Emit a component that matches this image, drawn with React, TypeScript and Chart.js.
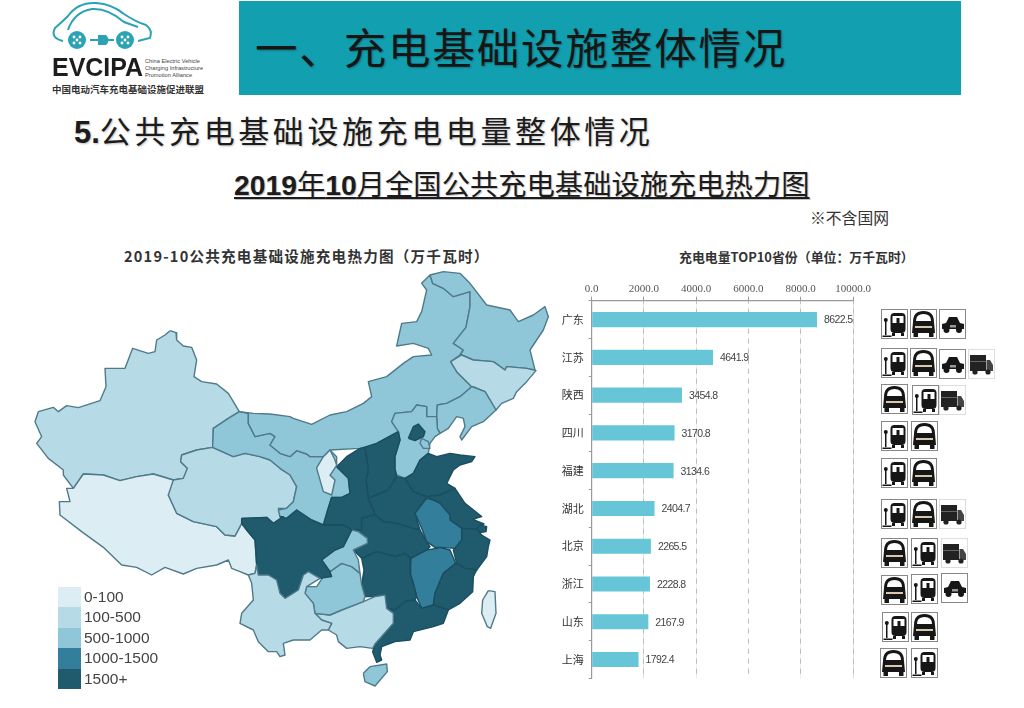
import React, { useEffect, useRef } from "react";
import { Chart, registerables } from "chart.js";

Chart.register(...registerables);

// ---------- bar chart data ----------
const provinces = ["广东", "江苏", "陕西", "四川", "福建", "湖北", "北京", "浙江", "山东", "上海"];
const chargeValues = [8622.5, 4641.9, 3454.8, 3170.8, 3134.6, 2404.7, 2265.5, 2228.8, 2167.9, 1792.4];

// ---------- legend ----------
const legendLabels = ["0-100", "100-500", "500-1000", "1000-1500", "1500+"];
const legendColors = ["#DCEDF3", "#B6DAE6", "#8FC7D9", "#337F9B", "#1F5A6D"];

// ---------- map outlines (traced; units are thirds of a pixel over the map canvas) ----------
type Pt = { x: number; y: number };
const tile = (ox: number, oy: number) => (s: TemplateStringsArray): Pt[] =>
  s[0].trim().split(/\s+/).map((p) => {
    const [x, y] = p.split(",").map(Number);
    return { x: x + ox, y: y + oy };
  });
const A = tile(0, 0);
const B = tile(780, 0);
const C = tile(0, 660);
const D = tile(780, 660);

const mapRegions: { name: string; level: number; outline: Pt[] }[] = [
  { name: "新疆", level: 1, outline: [
    ...A`450,272 468,278 470,300 490,318 515,322 530,360 522,410 545,425 590,432 625,460 658,515 625,535 580,565 578,622 530,630 485,645 482,665 502,685`,
    ...C`505,30 490,55 460,60 400,42 350,50 300,62 250,45 190,42 160,85 130,45`,
    ...A`130,690 85,655 50,610 65,590 45,545 55,515 100,502 115,515 140,497 175,503 240,482 258,440 255,385 315,385 338,325 385,340 405,335 410,300 435,285`,
  ] },
  { name: "西藏", level: 0, outline: [
    ...C`190,42 250,45 300,62 350,50 400,42 460,60 490,58 445,105 470,160 520,185 590,200 615,225 645,228 665,190 680,210 705,240 710,315 705,340 685,345 660,335 635,325 625,300 590,315 530,325 490,342 435,322 395,345 350,322 305,315 250,262 185,215 120,165 118,125 150,125 140,85 160,85`,
  ] },
  { name: "青海", level: 1, outline: [
    ...A`578,622 530,630 485,645 482,665 502,685`,
    ...C`490,55 460,60 445,105 470,160 520,185 590,200 615,225 645,228 665,190 665,175 740,172 760,190 790,170 775,145`,
    ...D`20,145 40,125 50,80 30,45 0,25`,
    ...A`750,660 720,650 675,640 640,650`,
  ] },
  { name: "甘肃", level: 2, outline: [
    ...A`578,622 580,565 625,535 658,515 685,520 685,550 705,590 750,580 765,590 750,615 780,640`,
    ...B`30,650 50,632 80,642 90,650 130,650 150,630 170,650`,
    ...D`170,20 205,55 210,100 185,112 155,112 140,160 130,195 95,180 50,150 20,175 0,170`,
    ...C`775,150`,
    ...D`20,145 40,125 50,80 30,45 0,25`,
    ...A`750,660 720,650 675,640 640,650`,
  ] },
  { name: "内蒙古", level: 2, outline: [
    ...A`658,515 700,520 750,522 810,530`,
    ...B`40,535 95,553 150,525 200,515 250,490 275,470 265,425 320,410 370,370 400,350 455,345 445,325 400,310 350,318 365,250 410,245 425,215 440,150 425,130 450,105 458,130 490,145 520,170 570,155 570,200 558,262 520,310 550,330 540,345 512,365 530,395 575,440 540,470 500,490 472,495 470,530 440,530 440,500 410,495 395,515 345,520 335,545 355,575 290,610 240,625 150,630 130,650 90,650 80,642 50,632 30,650`,
    ...A`780,640 750,615 765,590 750,580 705,590 685,550 685,520`,
  ] },
  { name: "黑龙江", level: 2, outline: [
    ...B`450,105 490,95 540,100 570,130 620,195 690,210 715,245 760,225 795,200 805,230 790,270 750,330 765,390 740,385 680,380 675,390 640,365 580,360 545,345 540,345 550,330 520,310 558,262 570,200 570,155 520,170 490,145 458,130`,
  ] },
  { name: "吉林", level: 1, outline: [
    ...B`512,365 545,345 580,360 640,365 675,390 680,380 740,385 768,392 740,425 710,455 700,475 665,490 648,510 615,455 580,440 575,440 530,395`,
  ] },
  { name: "辽宁", level: 2, outline: [
    ...B`575,440 615,455 648,510 610,545 575,560 545,600 540,590 555,560 550,535 530,530 505,565 480,580 472,565 470,530 472,495 500,490 540,470`,
  ] },
  { name: "河北", level: 2, outline: [
    ...B`335,545 345,520 395,515 410,495 440,500 440,530 470,530 472,565 480,580 465,590 450,610 445,640 420,660`,
    ...D`400,40 375,55 350,45 345,30`,
    ...B`345,650 360,600 355,575`,
  ] },
  { name: "北京", level: 4, outline: [...B`385,595 400,560 415,552 435,575 430,590 405,602`] },
  { name: "天津", level: 2, outline: [...B`425,595 445,605 450,625 430,625 420,610`] },
  { name: "山西", level: 4, outline: [
    ...B`355,575 360,600 345,650 345,685`,
    ...D`350,50 325,90 265,115 258,60`,
    ...B`265,690 255,622 290,610`,
  ] },
  { name: "陕西", level: 4, outline: [
    ...B`240,625 255,622 265,690`,
    ...D`258,60 265,115 280,150 285,165 245,175 245,210 215,210 190,195 130,195 140,160 155,112 185,112 210,100 205,55 170,20`,
    ...B`200,650`,
  ] },
  { name: "宁夏", level: 0, outline: [
    ...B`150,630 130,650 112,680`,
    ...D`110,25 130,95 155,105 165,60 150,46 170,16 165,0`,
  ] },
  { name: "河南", level: 4, outline: [...D`265,115 325,90 350,50 375,55 400,95 440,110 405,160 420,210 400,205 350,190 310,185 285,165 280,150`] },
  { name: "山东", level: 4, outline: [
    ...B`445,640 470,650 510,640 540,645 585,650 575,665 540,675 520,690`,
    ...D`500,70 525,85 480,105 440,110 400,95 375,55 400,40 420,0`,
  ] },
  { name: "江苏", level: 4, outline: [...D`440,110 480,105 525,85 555,130 605,170 578,178 612,192 590,208 545,205 510,180 510,165 480,130 460,120`] },
  { name: "上海", level: 4, outline: [...D`600,195 620,200 618,215 600,218 592,205`] },
  { name: "安徽", level: 3, outline: [...D`440,115 460,120 480,130 510,165 510,180 545,205 545,240 525,265 480,262 465,262 440,245 425,205 405,160`] },
  { name: "浙江", level: 4, outline: [...D`545,205 590,208 605,225 630,240 625,260 620,290 590,330 555,325 530,310 520,270 525,265 545,240`] },
  { name: "江西", level: 3, outline: [...D`392,295 440,270 470,265 480,262 510,270 527,310 490,340 465,400 460,435 425,445 410,410 400,370 390,340`] },
  { name: "福建", level: 4, outline: [...D`527,310 555,325 590,330 580,350 578,395 540,430 505,450 460,435 465,400 490,340`] },
  { name: "湖北", level: 4, outline: [...D`245,175 285,165 310,185 350,190 400,205 420,210 440,245 450,260 440,270 392,295 375,280 345,290 290,275 245,295 220,270 262,250 262,235 235,215 215,210 245,210`] },
  { name: "湖南", level: 4, outline: [...D`245,295 290,275 345,290 375,280 392,295 390,340 400,370 410,410 405,420 375,425 345,450 320,445 315,405 285,410 255,410 245,375 252,330`] },
  { name: "广东", level: 4, outline: [...D`345,450 375,425 405,420 425,445 460,435 505,450 490,490 460,500 400,515 390,540 345,545 305,560 300,585 305,600 290,607 278,575 285,552 340,490 340,460 320,445`] },
  { name: "广西", level: 1, outline: [...D`105,460 150,465 185,450 250,425 285,410 315,405 320,445 340,460 340,490 285,552 278,565 240,560 200,565 175,545 170,525 145,510 155,490 125,480`] },
  { name: "贵州", level: 2, outline: [...D`80,380 110,380 130,350 150,335 185,310 215,320 240,340 245,375 255,410 250,425 185,450 150,465 105,460 100,430 75,400`] },
  { name: "重庆", level: 2, outline: [...D`215,210 235,215 262,235 262,250 220,270 235,300 240,340 215,320 185,310 150,335 125,300 165,270 190,260`] },
  { name: "四川", level: 4, outline: [
    ...C`665,175 740,172 760,190 790,170`,
    ...D`0,170 20,175 50,150 95,180 130,195 190,195 215,210 190,260 165,270 125,300 150,335 155,350 120,355 85,335 70,345 55,390 15,415 0,400`,
    ...C`770,360 745,345 715,345 710,315 705,240 680,210 665,190`,
  ] },
  { name: "云南", level: 1, outline: [
    ...C`705,340 710,315 715,345 745,345 770,360`,
    ...D`0,400 15,415 55,390 70,345 85,335 120,355 80,380 75,400 100,430 105,460 125,480 155,490 145,510 125,510 90,540 40,540 10,550 15,585 0,590`,
    ...C`770,575 745,575 715,545 700,510 660,490 665,460 700,420 695,370 685,345`,
  ] },
  { name: "海南", level: 2, outline: [...D`250,640 270,620 320,612 322,635 285,678 255,665`] },
  { name: "台湾", level: 0, outline: [...D`625,392 645,395 648,460 632,505 622,500 605,460 608,420`] },
];

// ---------- which vehicle pictograms stand beside each province ----------
type Icon = "charge" | "coach" | "car" | "truck";
const provinceIcons: [Icon, number, number][][] = [
  [["charge", 881, 309], ["coach", 910, 309], ["car", 939, 309]],
  [["charge", 881, 348], ["coach", 910, 348], ["car", 939, 349], ["truck", 968, 349]],
  [["coach", 881, 384], ["charge", 912, 385], ["truck", 939, 385]],
  [["charge", 881, 421], ["coach", 911, 421]],
  [["charge", 881, 458], ["coach", 910, 458]],
  [["charge", 881, 499], ["coach", 910, 499], ["truck", 939, 499]],
  [["coach", 881, 538], ["charge", 911, 538], ["truck", 941, 538]],
  [["coach", 881, 575], ["charge", 911, 574], ["car", 941, 573]],
  [["charge", 882, 612], ["coach", 911, 612]],
  [["coach", 880, 648], ["charge", 911, 648]],
];

const CJK = '"Noto Sans CJK SC", sans-serif';

function VehicleIcon({ kind, x, y }: { kind: Icon; x: number; y: number }) {
  const box: React.CSSProperties = { position: "absolute", left: x, top: y, width: 27, height: 30, overflow: "visible" };
  const stroke = kind === "truck" ? "#ddd" : "#888";
  return (
    <svg style={box} viewBox="0 0 27 30">
      <rect x="0.5" y="0.5" width="26" height="29" fill="#fff" stroke={stroke} strokeWidth="1" />
      {kind === "coach" && (
        <g fill="#161616">
          <path d="M3 13 Q3 2 13.5 2 Q24 2 24 13 L25 24 L2 24 Z" />
          <rect x="3.5" y="24" width="4.5" height="4" />
          <rect x="19" y="24" width="4.5" height="4" />
          <path d="M6 12 Q6 5 13.5 5 Q21 5 21 12 Z" fill="#fff" />
          <rect x="5" y="17" width="17" height="2" fill="#d8c8b0" />
        </g>
      )}
      {kind === "charge" && (
        <g fill="#161616">
          <rect x="9.5" y="4" width="15" height="20" rx="4" />
          <rect x="11" y="24" width="3" height="3" />
          <rect x="20" y="24" width="3" height="3" />
          <rect x="11.5" y="7" width="11" height="7" fill="#fff" />
          <rect x="15.5" y="9" width="3" height="5" />
          <rect x="4" y="11" width="1.5" height="15" />
          <circle cx="4.8" cy="11" r="2" />
          <rect x="1.5" y="26.5" width="9" height="1.5" />
        </g>
      )}
      {kind === "car" && (
        <g fill="#161616">
          <path d="M3 15 L7 14 L10 8 L18 8 L21 14 L25 15 L25 20 L3 20 Z" />
          <circle cx="7.5" cy="21" r="3" />
          <circle cx="20" cy="21" r="3" />
          <rect x="11" y="16" width="6" height="2.5" fill="#999" />
        </g>
      )}
      {kind === "truck" && (
        <g fill="#222">
          <rect x="2" y="6" width="16" height="16" />
          <path d="M18.5 11 L22 11 L25 16 L25 22 L18.5 22 Z" fill="#444" />
          <circle cx="7" cy="23" r="2.6" />
          <circle cx="20" cy="23" r="2.6" />
          <rect x="2" y="12" width="16" height="1" fill="#666" />
        </g>
      )}
    </svg>
  );
}

function Logo() {
  return (
    <div style={{ position: "absolute", left: 0, top: 0, width: 230, height: 100 }}>
      <svg style={{ position: "absolute", left: 0, top: 0 }} width="230" height="60" viewBox="0 0 230 60">
        <g fill="none" stroke="#2BA3B5" strokeWidth="2">
          <path d="M63 41 Q50 38 55 28 Q62 22 68 16 Q78 2 96 3 Q112 4 124 14 Q136 22 146 25 Q153 30 150 38 L138 41" />
          <path d="M68 30 Q74 12 92 9 Q108 8 124 22 L138 27" />
        </g>
        <g fill="#2BA3B5">
          <circle cx="77" cy="40" r="9" />
          <circle cx="125" cy="40" r="9" />
          <rect x="90" y="39" width="8" height="2" />
          <path d="M98 35 L106 35 Q111 40 106 45 L98 45 Z" />
          <rect x="106" y="39" width="8" height="2" />
        </g>
        <g fill="#fff">
          {[[-3, -3], [3, -3], [0, 0], [-3, 3], [3, 3]].map(([dx, dy], i) => (
            <React.Fragment key={i}>
              <circle cx={77 + dx} cy={40 + dy} r="1.4" />
              <circle cx={125 + dx} cy={40 + dy} r="1.4" />
            </React.Fragment>
          ))}
        </g>
      </svg>
      <div style={{ position: "absolute", left: 52, top: 52, font: "bold 26px 'Liberation Sans', sans-serif", color: "#1d1d1d", lineHeight: "30px", transform: "scaleX(0.96)", transformOrigin: "left" }}>EVCIPA</div>
      <div style={{ position: "absolute", left: 145, top: 58, font: "5.7px/7px 'Liberation Sans', sans-serif", color: "#444", whiteSpace: "nowrap" }}>
        China Electric Vehicle<br />Charging Infrastructure<br />Promotion Alliance
      </div>
      <div style={{ position: "absolute", left: 52, top: 82, font: `bold 9.5px/14px ${CJK}`, color: "#333", whiteSpace: "nowrap" }}>中国电动汽车充电基础设施促进联盟</div>
    </div>
  );
}

const valueLabels = {
  id: "valueLabels",
  afterDatasetsDraw(chart: any) {
    const { ctx } = chart;
    const bars = chart.getDatasetMeta(0).data;
    ctx.save();
    ctx.font = "10.5px 'Liberation Sans', sans-serif";
    ctx.letterSpacing = "-0.6px";
    ctx.fillStyle = "#444";
    ctx.textAlign = "left";
    ctx.textBaseline = "middle";
    bars.forEach((bar: any, i: number) => {
      ctx.fillText(chargeValues[i].toFixed(1), bar.x + 7, bar.y + 1);
    });
    ctx.restore();
  },
};

export default function App() {
  const mapRef = useRef<HTMLCanvasElement>(null);
  const barRef = useRef<HTMLCanvasElement>(null);

  useEffect(() => {
    const map = new Chart(mapRef.current!, {
      type: "scatter",
      data: {
        datasets: mapRegions.map((r, i) => ({
          label: r.name,
          data: [...r.outline, r.outline[0]],
          showLine: true,
          fill: "shape",
          order: mapRegions.length - i,
          backgroundColor: legendColors[r.level],
          borderColor: r.level >= 3 ? "#1A4E60" : "#4F7A89",
          borderWidth: 1.4,
          borderJoinStyle: "round",
          pointRadius: 0,
          pointHoverRadius: 0,
          tension: 0,
        })),
      } as any,
      options: {
        animation: false,
        responsive: false,
        events: [],
        layout: { padding: 0 },
        plugins: { legend: { display: false }, tooltip: { enabled: false } },
        scales: {
          x: { type: "linear", display: false, min: 0, max: 1590 },
          y: { type: "linear", display: false, min: 0, max: 1380, reverse: true },
        },
      },
    });

    const bar = new Chart(barRef.current!, {
      type: "bar",
      data: {
        labels: provinces,
        datasets: [{
          data: chargeValues,
          backgroundColor: "#66C6D7",
          borderWidth: 0,
          barPercentage: 0.4,
          categoryPercentage: 1,
        }],
      },
      options: {
        animation: false,
        responsive: false,
        indexAxis: "y",
        events: [],
        layout: { padding: { right: 27, bottom: 2.3, left: 0, top: 0 } },
        plugins: { legend: { display: false }, tooltip: { enabled: false } },
        scales: {
          x: {
            position: "top",
            min: 0,
            max: 10000,
            border: { display: true, color: "#9a9a9a", width: 1.2 },
            grid: { color: "#bdbdbd", lineWidth: 1, tickLength: 4, tickColor: "#9a9a9a" },
            ticks: {
              stepSize: 2000,
              padding: 1,
              maxRotation: 0,
              color: "#555",
              font: { family: "'Liberation Serif', serif", size: 11 },
              callback: (v: any) => Number(v).toFixed(1),
            },
            afterFit(s: any) { s.height = 30.7; },
          } as any,
          y: {
            border: { display: true, color: "#9a9a9a", width: 1.2 },
            grid: { drawOnChartArea: false, tickLength: 3, tickColor: "#9a9a9a" },
            ticks: { padding: 5, color: "#333", font: { family: CJK, size: 11 } },
            afterFit(s: any) { s.width = 41.7; },
          } as any,
        },
      },
      plugins: [valueLabels, {
        id: "dashGrid",
        beforeDatasetsDraw(chart: any) {
          const { ctx, chartArea, scales } = chart;
          ctx.save();
          ctx.strokeStyle = "#fff";
          ctx.lineWidth = 1;
          ctx.setLineDash([5, 5]);
          scales.x.ticks.forEach((t: any) => {
            const px = scales.x.getPixelForValue(t.value);
            if (t.value === 0) return;
            ctx.beginPath();
            ctx.moveTo(px, chartArea.top + 3);
            ctx.lineTo(px, chartArea.bottom);
            ctx.stroke();
          });
          ctx.restore();
        },
      }],
    });

    return () => {
      map.destroy();
      bar.destroy();
    };
  }, []);

  const abs = (left: number, top: number, extra: React.CSSProperties = {}): React.CSSProperties => ({
    position: "absolute", left, top, whiteSpace: "nowrap", ...extra,
  });

  return (
    <div style={{ position: "absolute", left: 0, top: 0, width: 1024, height: 708, background: "#fff", overflow: "hidden", fontFamily: CJK }}>
      <Logo />
      <div style={abs(239, 1, { width: 722, height: 94, background: "#12A0B1" })} />
      <div style={abs(255, 15, { fontSize: 42.5, lineHeight: "62px", letterSpacing: 1.85, color: "#161616", textShadow: "1px 1px 2px rgba(0,0,0,.3)" })}>一、充电基础设施整体情况</div>
      <div style={abs(74, 107, { fontSize: 31, lineHeight: "46px", letterSpacing: 3.6, color: "#1c1c1c", textShadow: "1px 1px 2px rgba(0,0,0,.25)" })}>
        <b style={{ fontFamily: "'Liberation Sans', sans-serif", letterSpacing: 0 }}>5.</b>公共充电基础设施充电电量整体情况
      </div>
      <div style={abs(234, 162, { fontSize: 28.3, lineHeight: "42px", color: "#1c1c1c", textDecoration: "underline", textUnderlineOffset: 2, textShadow: "1px 1px 1px rgba(0,0,0,.25)" })}>
        <b style={{ fontFamily: "'Liberation Sans', sans-serif" }}>2019</b>年<b style={{ fontFamily: "'Liberation Sans', sans-serif" }}>10</b>月全国公共充电基础设施充电热力图
      </div>
      <div style={abs(810, 207, { fontSize: 15.8, lineHeight: "22px", color: "#333" })}>※不含国网</div>
      <div style={abs(124, 245, { fontSize: 14.6, lineHeight: "22px", letterSpacing: 1.2, fontWeight: 700, color: "#333" })}>2019-10公共充电基础设施充电热力图（万千瓦时）</div>
      <div style={abs(679, 246, { fontSize: 12.9, lineHeight: "22px", fontWeight: 700, color: "#333" })}>充电电量TOP10省份（单位：万千瓦时）</div>

      <canvas ref={mapRef} width={530} height={460} style={abs(20, 240, { width: 530, height: 460, display: "block" })} />
      <canvas ref={barRef} width={330} height={420} style={abs(550, 270, { width: 330, height: 420, display: "block" })} />

      {legendLabels.map((label, i) => (
        <React.Fragment key={label}>
          <div style={abs(58, 587 + i * 20.4, { width: 23, height: 20.4, background: legendColors[i] })} />
          <div style={abs(84, 587 + i * 20.4, { font: "15.5px/20.4px 'Liberation Sans', sans-serif", color: "#444" })}>{label}</div>
        </React.Fragment>
      ))}

      {provinceIcons.map((row, r) =>
        row.map(([kind, x, y], i) => <VehicleIcon key={`${r}-${i}`} kind={kind} x={x} y={y} />)
      )}
    </div>
  );
}
